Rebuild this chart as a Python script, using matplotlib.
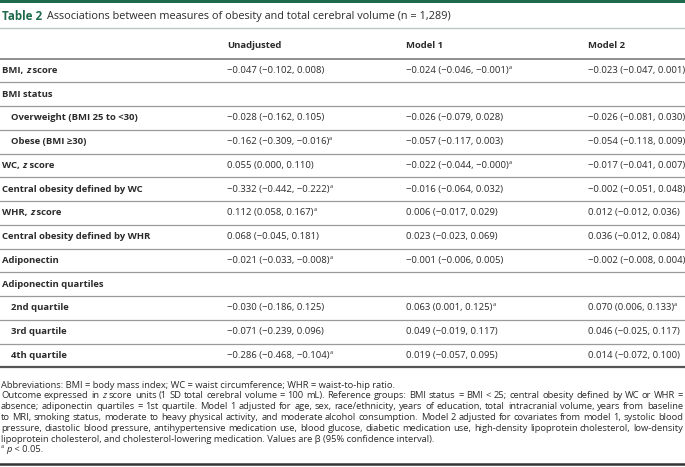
import matplotlib
matplotlib.use('Agg')
import matplotlib.pyplot as plt

plt.rcParams['font.family'] = ['Open Sans', 'DejaVu Sans']

# table data
labels = ["BMI, |z| score", "BMI status", "Overweight (BMI 25 to <30)", "Obese (BMI ≥30)",
          "WC, |z| score", "Central obesity defined by WC", "WHR, |z| score",
          "Central obesity defined by WHR", "Adiponectin", "Adiponectin quartiles",
          "2nd quartile", "3rd quartile", "4th quartile"]
indent = [0, 0, 1, 1, 0, 0, 0, 0, 0, 0, 1, 1, 1]
columns = ["Unadjusted", "Model 1", "Model 2"]

unadj = [(-0.047, -0.102, 0.008), None, (-0.028, -0.162, 0.105), (-0.162, -0.309, -0.016),
         (0.055, 0.000, 0.110), (-0.332, -0.442, -0.222), (0.112, 0.058, 0.167),
         (0.068, -0.045, 0.181), (-0.021, -0.033, -0.008), None,
         (-0.030, -0.186, 0.125), (-0.071, -0.239, 0.096), (-0.286, -0.468, -0.104)]
unadj_sig = [0, 0, 0, 1, 0, 1, 1, 0, 1, 0, 0, 0, 1]

model1 = [(-0.024, -0.046, -0.001), None, (-0.026, -0.079, 0.028), (-0.057, -0.117, 0.003),
          (-0.022, -0.044, -0.0), (-0.016, -0.064, 0.032), (0.006, -0.017, 0.029),
          (0.023, -0.023, 0.069), (-0.001, -0.006, 0.005), None,
          (0.063, 0.001, 0.125), (0.049, -0.019, 0.117), (0.019, -0.057, 0.095)]
model1_sig = [1, 0, 0, 0, 1, 0, 0, 0, 0, 0, 1, 0, 0]

model2 = [(-0.023, -0.047, 0.001), None, (-0.026, -0.081, 0.030), (-0.054, -0.118, 0.009),
          (-0.017, -0.041, 0.007), (-0.002, -0.051, 0.048), (0.012, -0.012, 0.036),
          (0.036, -0.012, 0.084), (-0.002, -0.008, 0.004), None,
          (0.070, 0.006, 0.133), (0.046, -0.025, 0.117), (0.014, -0.072, 0.100)]
model2_sig = [0, 0, 0, 0, 0, 0, 0, 0, 0, 0, 1, 0, 0]

title_num = "Table 2"
title_text = "Associations between measures of obesity and total cerebral volume (n = 1,289)"

# footnote lines, |...| marks italic, ^...^ marks superscript
notes = [
    "Abbreviations: BMI = body mass index; WC = waist circumference; WHR = waist-to-hip ratio.",
    "Outcome expressed in |z| score units (1 SD total cerebral volume = 100 mL). Reference groups: BMI status = BMI < 25; central obesity defined by WC or WHR =",
    "absence; adiponectin quartiles = 1st quartile. Model 1 adjusted for age, sex, race/ethnicity, years of education, total intracranial volume, years from baseline",
    "to MRI, smoking status, moderate to heavy physical activity, and moderate alcohol consumption. Model 2 adjusted for covariates from model 1, systolic blood",
    "pressure, diastolic blood pressure, antihypertensive medication use, blood glucose, diabetic medication use, high-density lipoprotein cholesterol, low-density",
    "lipoprotein cholesterol, and cholesterol-lowering medication. Values are β (95% confidence interval).",
    "^a^ |p| < 0.05.",
]
# justified footnote lines run to the right edge
justified = [0, 1, 1, 1, 1, 0, 0]

GREEN = '#1d6b4c'
TXT = '#2b2b2b'
BODY = 6.8
NOTE = 6.75

fig = plt.figure(figsize=(6.85, 4.67), dpi=100)
ax = fig.add_axes([0, 0, 1, 1])
ax.set_xlim(0, 685)
ax.set_ylim(467, 0)
ax.axis('off')
fig.canvas.draw()
rend = fig.canvas.get_renderer()


def width_of(t):
    bb = t.get_window_extent(rend)
    return bb.width


def fmt(v):
    return f"{v:.3f}".replace('-', '−')


def parse(s):
    # split into (text, style) runs
    runs = []
    style = 'n'
    buf = ''
    for ch in s:
        if ch == '|' or ch == '^':
            if buf:
                runs.append((buf, style))
            buf = ''
            mark = 'i' if ch == '|' else 's'
            style = 'n' if style == mark else mark
        else:
            buf += ch
    if buf:
        runs.append((buf, style))
    return runs


def draw_runs(x, y, s, size, weight='normal', color=TXT, justify_to=None):
    runs = parse(s)
    if justify_to is None:
        for txt, st in runs:
            kw = dict(fontsize=size, fontweight=weight, color=color, va='center', ha='left')
            yy = y
            if st == 'i':
                kw['fontstyle'] = 'italic'
            if st == 's':
                kw['fontsize'] = size * 0.6
                yy = y - size * 0.45
            t = ax.text(x, yy, txt, **kw)
            x += width_of(t)
        return x
    # justified: split runs into words
    words = []
    cur = []
    for txt, st in runs:
        parts = txt.split(' ')
        for k, p in enumerate(parts):
            if k > 0:
                words.append(cur)
                cur = []
            if p:
                cur.append((p, st))
    words.append(cur)
    words = [w for w in words if w]
    drawn = []
    total = 0
    for w in words:
        pieces = []
        ww = 0
        for p, st in w:
            kw = dict(fontsize=size, fontweight=weight, color=color, va='center', ha='left')
            if st == 'i':
                kw['fontstyle'] = 'italic'
            t = ax.text(0, y, p, **kw)
            pw = width_of(t)
            pieces.append((t, pw))
            ww += pw
        drawn.append(pieces)
        total += ww
    gap = (justify_to - x - total) / (len(drawn) - 1)
    for pieces in drawn:
        for t, pw in pieces:
            t.set_x(x)
            x += pw
        x += gap
    return x


# top bar and title
ax.axhspan(0, 3.2, color=GREEN, lw=0)
xe = draw_runs(2, 16, title_num, 8.4, weight='bold', color=GREEN)
draw_runs(xe + 5, 16, title_text, 7.8)
ax.plot([0, 685], [27.5, 27.5], color='#b5c6be', lw=0.9)

# header
col_x = [227, 406, 588]
for cx, name in zip(col_x, columns):
    ax.text(cx, 45, name, fontsize=BODY, fontweight='bold', color=TXT, va='center', ha='left')
top = 58.5
row_h = 23.75
ax.plot([0, 685], [top, top], color='#707070', lw=1.1)

cols = [(unadj, unadj_sig), (model1, model1_sig), (model2, model2_sig)]
for i, lab in enumerate(labels):
    yc = top + row_h * (i + 0.5)
    draw_runs(2 + 9 * indent[i], yc, lab, BODY, weight='bold')
    for cx, (vals, sig) in zip(col_x, cols):
        v = vals[i]
        if v is None:
            continue
        s = f"{fmt(v[0])} ({fmt(v[1])}, {fmt(v[2])})"
        if sig[i]:
            s += "^a^"
        draw_runs(cx, yc, s, BODY)
    yl = top + row_h * (i + 1)
    if i < len(labels) - 1:
        ax.plot([0, 685], [yl, yl], color='#9a9a9a', lw=0.9)
    else:
        ax.plot([0, 685], [yl, yl], color='#555555', lw=1.6)

# footnotes
for k, line in enumerate(notes):
    yy = 385 + 10.8 * k
    draw_runs(1, yy, line, NOTE, justify_to=683 if justified[k] else None)

ax.plot([0, 685], [463.5, 463.5], color='#333333', lw=1.8)

fig.savefig('out.png', dpi=100)
